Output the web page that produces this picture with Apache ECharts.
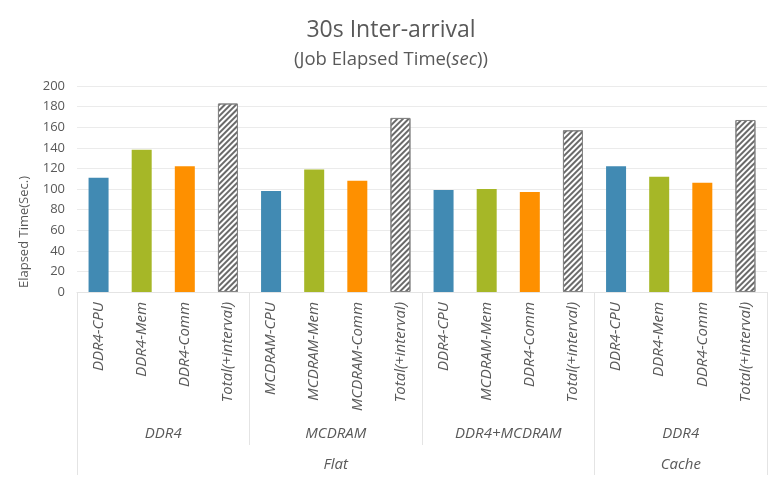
<!DOCTYPE html>
<html>
<head>
<meta charset="utf-8">
<script src="https://cdn.jsdelivr.net/npm/echarts@6/dist/echarts.min.js"></script>
<style>
html,body{margin:0;padding:0;background:#fff;}
#c{width:782px;height:482px;}
</style>
</head>
<body>
<div id="c"></div>
<script>
var categories = ['DDR4-CPU','DDR4-Mem','DDR4-Comm','Total(+interval)',
  'MCDRAM-CPU','MCDRAM-Mem','MCDRAM-Comm','Total(+interval)',
  'DDR4-CPU','MCDRAM-Mem','DDR4-Comm','Total(+interval)',
  'DDR4-CPU','DDR4-Mem','DDR4-Comm','Total(+interval)'];
var values = [111,138,122,183, 98,119,108,169, 99,100,97,157, 122,112,106,167];
var level2 = ['DDR4','MCDRAM','DDR4+MCDRAM','DDR4'];
var level2Spans = [4,4,4,4];
var level3 = ['Flat','Cache'];
var level3Spans = [12,4];
var yTicks = [0,20,40,60,80,100,120,140,160,180,200];

var kindColors = ['#418AB3','#A6B727','#FE9000',null];

function spanInfo(names, spans){
  var bounds=[0], centers=[], map={}, acc=0;
  for(var i=0;i<spans.length;i++){
    var c=acc+spans[i]/2; centers.push(c); map[c]=names[i];
    acc+=spans[i]; bounds.push(acc);
  }
  return {bounds:bounds, centers:centers, map:map};
}
var l2 = spanInfo(level2, level2Spans);
var l3 = spanInfo(level3, level3Spans);
var total = categories.length;

var barData = values.map(function(v,i){
  var k=i%4;
  if(k===3){
    return {value:v, itemStyle:{color:'#ffffff', borderColor:'#858585', borderWidth:1,
      decal:{symbol:'rect', symbolSize:1, dashArrayX:[1,0], dashArrayY:[1.2,1.6], rotation:-Math.PI/4, color:'#6a6a6a'}}};
  }
  return {value:v, itemStyle:{color:kindColors[k]}};
});

var txt = '#595959', font='Open Sans', sepColor='#e4e4e4';

var chart = echarts.init(document.getElementById('c'));
chart.setOption({
  animation:false,
  title:{
    text:'30s Inter-arrival',
    subtext:'(Job Elapsed Time({i|sec}))',
    left:'center', top:14, itemGap:8,
    textStyle:{color:txt, fontFamily:font, fontSize:23, fontWeight:'normal'},
    subtextStyle:{color:txt, fontFamily:font, fontSize:18.5,
      rich:{i:{fontStyle:'italic', color:txt, fontFamily:font, fontSize:18.5}}}
  },
  grid:{left:77, right:15, top:86, bottom:190},
  xAxis:[
    {type:'category', data:categories, position:'bottom',
     axisLine:{lineStyle:{color:sepColor}}, axisTick:{show:false},
     axisLabel:{rotate:90, interval:0, margin:10, color:txt, fontFamily:font, fontSize:15, fontStyle:'italic'}},
    {type:'value', min:0, max:total, position:'bottom',
     axisLine:{show:false}, splitLine:{show:false},
     axisTick:{show:true, customValues:l2.bounds, length:153, lineStyle:{color:sepColor}},
     axisLabel:{customValues:l2.centers, margin:134, color:txt, fontFamily:font, fontSize:15, fontStyle:'italic',
       formatter:function(v){return l2.map[v]||'';}}},
    {type:'value', min:0, max:total, position:'bottom',
     axisLine:{show:false}, splitLine:{show:false},
     axisTick:{show:true, customValues:l3.bounds, length:183, lineStyle:{color:sepColor}},
     axisLabel:{customValues:l3.centers, margin:165, color:txt, fontFamily:font, fontSize:15, fontStyle:'italic',
       formatter:function(v){return l3.map[v]||'';}}}
  ],
  yAxis:{type:'value', min:yTicks[0], max:yTicks[yTicks.length-1], interval:20,
    name:'Elapsed Time(Sec.)', nameLocation:'middle', nameGap:46,
    nameTextStyle:{color:txt, fontFamily:font, fontSize:13, padding:[0,86,0,0]},
    axisLine:{show:false}, axisTick:{show:false},
    axisLabel:{color:txt, fontFamily:font, fontSize:13, margin:12},
    splitLine:{lineStyle:{color:'#ebebeb'}}},
  series:[{type:'bar', xAxisIndex:0, data:barData, barWidth:20}]
});
</script>
</body>
</html>
